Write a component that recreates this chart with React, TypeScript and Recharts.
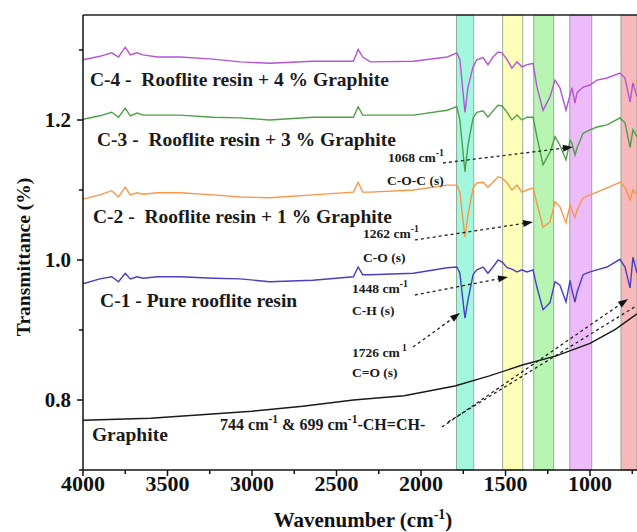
import { LineChart, Line, XAxis, YAxis, ReferenceArea, ReferenceLine, ReferenceDot, Label } from 'recharts';

// wavenumber grid shared by the four resin spectra (cm-1)
const RESIN_WN = [
  4000, 3900, 3830, 3790, 3750, 3720, 3680, 3645, 3560, 3425, 3230, 3070, 2895, 2640, 2400, 2372, 2345, 2300,
  2045, 1845, 1788, 1770, 1740, 1722, 1692, 1670, 1633, 1604, 1574, 1544, 1520, 1490, 1462, 1432, 1403, 1373,
  1337, 1314, 1278, 1237, 1207, 1178, 1142, 1118, 1107, 1089, 1077, 1041, 1000, 959, 899, 823, 793, 763, 746, 722,
];

const C4 = [
  1.286, 1.291, 1.296, 1.29, 1.304, 1.293, 1.296, 1.293, 1.29, 1.29, 1.287, 1.283, 1.281, 1.284, 1.284, 1.301,
  1.29, 1.283, 1.284, 1.29, 1.296, 1.286, 1.211, 1.247, 1.276, 1.286, 1.289, 1.279, 1.29, 1.297, 1.296, 1.286,
  1.274, 1.283, 1.276, 1.279, 1.281, 1.247, 1.214, 1.233, 1.257, 1.246, 1.214, 1.236, 1.246, 1.224, 1.239,
  1.247, 1.25, 1.257, 1.26, 1.267, 1.26, 1.226, 1.253, 1.233,
];
const C3 = [
  1.201, 1.206, 1.211, 1.204, 1.217, 1.206, 1.21, 1.207, 1.207, 1.207, 1.204, 1.203, 1.2, 1.204, 1.204, 1.219,
  1.207, 1.207, 1.207, 1.214, 1.219, 1.2, 1.126, 1.164, 1.203, 1.211, 1.213, 1.204, 1.213, 1.221, 1.22, 1.211,
  1.2, 1.207, 1.2, 1.204, 1.204, 1.176, 1.136, 1.154, 1.176, 1.164, 1.143, 1.171, 1.167, 1.15, 1.16, 1.181,
  1.186, 1.19, 1.193, 1.203, 1.196, 1.161, 1.186, 1.176,
];
const C2 = [
  1.087, 1.093, 1.099, 1.09, 1.104, 1.093, 1.096, 1.094, 1.096, 1.096, 1.093, 1.09, 1.089, 1.093, 1.097, 1.111,
  1.097, 1.097, 1.1, 1.107, 1.107, 1.097, 1.033, 1.064, 1.103, 1.11, 1.111, 1.104, 1.111, 1.119, 1.117, 1.11,
  1.1, 1.107, 1.097, 1.1, 1.103, 1.081, 1.047, 1.054, 1.083, 1.076, 1.053, 1.079, 1.071, 1.061, 1.071, 1.089,
  1.093, 1.097, 1.103, 1.111, 1.104, 1.086, 1.1, 1.093,
];
const C1 = [
  0.966, 0.973, 0.976, 0.969, 0.981, 0.973, 0.976, 0.974, 0.976, 0.976, 0.974, 0.973, 0.969, 0.971, 0.976, 0.99,
  0.979, 0.979, 0.981, 0.989, 0.99, 0.981, 0.917, 0.943, 0.979, 0.986, 0.99, 0.981, 0.99, 1.0, 0.997, 0.989,
  0.987, 0.983, 0.986, 0.983, 0.986, 0.961, 0.929, 0.939, 0.969, 0.964, 0.94, 0.971, 0.957, 0.94, 0.954, 0.979,
  0.983, 0.986, 0.99, 1.001, 0.99, 0.96, 1.004, 0.981,
];

const GRAPHITE_WN = [4000, 3600, 3300, 3000, 2700, 2400, 2100, 1800, 1600, 1400, 1200, 1000, 850, 722];
const GRAPHITE = [0.771, 0.774, 0.779, 0.784, 0.791, 0.8, 0.806, 0.82, 0.834, 0.85, 0.863, 0.881, 0.901, 0.923];

// highlighted absorption regions
const BANDS = [
  [1790, 1688],
  [1517, 1398],
  [1333, 1215],
  [1120, 990],
  [817, 722],
];
const BAND_COLORS = ['#8cf5d6', '#ffffa8', '#a6f2a0', '#e8aaf8', '#f5a8a8'];

const X_TICKS = [4000, 3750, 3500, 3250, 3000, 2750, 2500, 2250, 2000, 1750, 1500, 1250, 1000, 750];
const Y_TICKS = [0.7, 0.8, 0.9, 1.0, 1.1, 1.2, 1.3];

const SERIES = [
  { key: 'c4', color: '#b455d6' },
  { key: 'c3', color: '#4f9f4a' },
  { key: 'c2', color: '#f8964a' },
  { key: 'c1', color: '#4a3fbf' },
];

const SERIES_LABELS = [
  { w: 3959, v: 1.2486, text: 'C-4 -  Rooflite resin + 4 % Graphite' },
  { w: 3917, v: 1.1629, text: 'C-3 -  Rooflite resin + 3 % Graphite' },
  { w: 3941, v: 1.0529, text: 'C-2 -  Rooflite resin + 1 % Graphite' },
  { w: 3899, v: 0.9329, text: 'C-1 - Pure rooflite resin' },
  { w: 3947, v: 0.7414, text: 'Graphite' },
];

// [text, superscript?]
const NOTES: { w: number; v: number; size: number; parts: [string, boolean][] }[] = [
  { w: 2195, v: 1.14, size: 13.5, parts: [['1068 cm', false], ['-1', true]] },
  { w: 2201, v: 1.107, size: 13.5, parts: [['C-O-C (s)', false]] },
  { w: 2343, v: 1.0314, size: 13.5, parts: [['1262 cm', false], ['-1', true]] },
  { w: 2343, v: 0.9971, size: 13.5, parts: [['C-O (s)', false]] },
  { w: 2408, v: 0.9529, size: 13.5, parts: [['1448 cm', false], ['-1', true]] },
  { w: 2408, v: 0.9214, size: 13.5, parts: [['C-H (s)', false]] },
  { w: 2408, v: 0.8614, size: 13.5, parts: [['1726 cm', false], [' 1', true]] },
  { w: 2408, v: 0.8329, size: 13.5, parts: [['C=O (s)', false]] },
  {
    w: 3189,
    v: 0.7571,
    size: 16,
    parts: [['744 cm', false], ['-1', true], [' & 699 cm', false], ['-1', true], ['-CH=CH-', false]],
  },
];

// dashed pointers: start -> end, head drawn at the end
const ARROWS = [
  { from: [1870, 1.1386], to: [1101, 1.1614], head: true },
  { from: [2036, 1.0286], to: [1337, 1.0543], head: true },
  { from: [2036, 0.95], to: [1485, 0.9757], head: true },
  { from: [2047, 0.8757], to: [1769, 0.9243], head: true },
  { from: [1876, 0.7614], to: [775, 0.9443], head: true },
  { from: [1840, 0.7686], to: [722, 0.935], head: false },
];

const FONT = "'Liberation Serif', 'Times New Roman', Times, serif";

const XTick = ({ x, y, payload }: any) => {
  const major = payload.value % 500 === 0;
  return (
    <g>
      <line x1={x} x2={x} y1={y} y2={y + (major ? 6 : 4)} stroke="#111" strokeWidth={1.5} />
      {major && (
        <text x={x} y={y + 21} textAnchor="middle" fontFamily={FONT} fontWeight="bold" fontSize={22} fill="#111">
          {payload.value}
        </text>
      )}
    </g>
  );
};

const YTick = ({ x, y, payload }: any) => {
  const major = Math.round(payload.value * 10) % 2 === 0;
  return (
    <g>
      <line x1={x - (major ? 6 : 4)} x2={x} y1={y} y2={y} stroke="#111" strokeWidth={1.5} />
      {major && (
        <text x={x - 12} y={y + 7} textAnchor="end" fontFamily={FONT} fontWeight="bold" fontSize={21} fill="#111">
          {payload.value.toFixed(1)}
        </text>
      )}
    </g>
  );
};

const Arrow = (head: boolean) => (p: any) => {
  const { x1, y1, x2, y2 } = p;
  const a = Math.atan2(y2 - y1, x2 - x1);
  const len = 10;
  const hw = 3.5;
  const bx = x2 - len * Math.cos(a);
  const by = y2 - len * Math.sin(a);
  const nx = -Math.sin(a) * hw;
  const ny = Math.cos(a) * hw;
  return (
    <g>
      <line x1={x1} y1={y1} x2={head ? bx : x2} y2={head ? by : y2} stroke="#222" strokeWidth={1.3} strokeDasharray="3 3" />
      {head && <polygon points={`${x2},${y2} ${bx + nx},${by + ny} ${bx - nx},${by - ny}`} fill="#111" />}
    </g>
  );
};

export default function App() {
  const rows = RESIN_WN.map((w, i) => ({ w, c1: C1[i], c2: C2[i], c3: C3[i], c4: C4[i] }));
  const graphiteRows = GRAPHITE_WN.map((w, i) => ({ w, g: GRAPHITE[i] }));

  return (
    <div style={{ position: 'absolute', left: 0, top: 0, width: 637, height: 532, background: '#fff', overflow: 'hidden' }}>
      <LineChart width={637} height={532} data={rows} margin={{ top: 15, right: 0, bottom: 0, left: 0 }}>
        <XAxis
          dataKey="w"
          type="number"
          domain={[722, 4000]}
          reversed
          allowDataOverflow
          ticks={X_TICKS}
          interval={0}
          tick={<XTick />}
          tickLine={false}
          tickSize={0}
          tickMargin={0}
          height={62}
          axisLine={{ stroke: '#111', strokeWidth: 1.5 }}
        >
          <Label
            content={({ viewBox }: any) => (
              <text
                x={viewBox.x + viewBox.width / 2 + 3}
                y={viewBox.y + 57}
                textAnchor="middle"
                fontFamily={FONT}
                fontWeight="bold"
                fontSize={21}
                fill="#111"
              >
                Wavenumber (cm
                <tspan dy={-8} fontSize={14}>-1</tspan>
                <tspan dy={8}>)</tspan>
              </text>
            )}
          />
        </XAxis>
        <YAxis
          type="number"
          domain={[0.7, 1.35]}
          allowDataOverflow
          ticks={Y_TICKS}
          interval={0}
          tick={<YTick />}
          tickLine={false}
          tickSize={0}
          tickMargin={0}
          width={83}
          axisLine={{ stroke: '#111', strokeWidth: 1.5 }}
        >
          <Label
            content={({ viewBox }: any) => {
              const cx = 23;
              const cy = viewBox.y + 242;
              return (
                <text
                  x={cx}
                  y={cy}
                  transform={`rotate(-90 ${cx} ${cy})`}
                  textAnchor="middle"
                  dominantBaseline="central"
                  fontFamily={FONT}
                  fontWeight="bold"
                  fontSize={19.5}
                  fill="#111"
                >
                  Transmittance (%)
                </text>
              );
            }}
          />
        </YAxis>

        {SERIES.map((s) => (
          <Line
            key={s.key}
            dataKey={s.key}
            stroke={s.color}
            strokeWidth={1.4}
            dot={false}
            type="linear"
            isAnimationActive={false}
          />
        ))}
        <Line
          data={graphiteRows}
          dataKey="g"
          stroke="#1a1a1a"
          strokeWidth={1.4}
          dot={false}
          type="linear"
          isAnimationActive={false}
        />

        {BANDS.map(([a, b], i) => (
          <ReferenceArea
            key={i}
            x1={a}
            x2={b}
            y1={0.7}
            y2={1.35}
            fill={BAND_COLORS[i]}
            fillOpacity={0.8}
            stroke="#7f9a88"
            strokeOpacity={0.8}
            strokeWidth={1}
          />
        ))}

        <ReferenceLine y={1.35} stroke="#222" strokeWidth={1.6} />

        {ARROWS.map((a, i) => (
          <ReferenceLine
            key={i}
            segment={[
              { x: a.from[0], y: a.from[1] },
              { x: a.to[0], y: a.to[1] },
            ]}
            shape={Arrow(a.head)}
          />
        ))}

        {SERIES_LABELS.map((l, i) => (
          <ReferenceDot
            key={'s' + i}
            x={l.w}
            y={l.v}
            r={0}
            fill="none"
            stroke="none"
            label={({ viewBox }: any) => (
              <text
                x={viewBox.x}
                y={viewBox.y}
                fontFamily={FONT}
                fontWeight="bold"
                fontSize={19.5}
                fill="#1a1a1a"
                style={{ whiteSpace: 'pre' }}
              >
                {l.text}
              </text>
            )}
          />
        ))}

        {NOTES.map((n, i) => (
          <ReferenceDot
            key={'n' + i}
            x={n.w}
            y={n.v}
            r={0}
            fill="none"
            stroke="none"
            label={({ viewBox }: any) => {
              let shift = 0;
              return (
                <text
                  x={viewBox.x}
                  y={viewBox.y}
                  fontFamily={FONT}
                  fontWeight="bold"
                  fontSize={n.size}
                  fill="#1a1a1a"
                  style={{ whiteSpace: 'pre' }}
                >
                  {n.parts.map(([t, sup], j) => {
                    const target = sup ? -n.size * 0.45 : 0;
                    const dy = target - shift;
                    shift = target;
                    return (
                      <tspan key={j} dy={dy} fontSize={sup ? n.size * 0.72 : n.size}>
                        {t}
                      </tspan>
                    );
                  })}
                </text>
              );
            }}
          />
        ))}
      </LineChart>
    </div>
  );
}
